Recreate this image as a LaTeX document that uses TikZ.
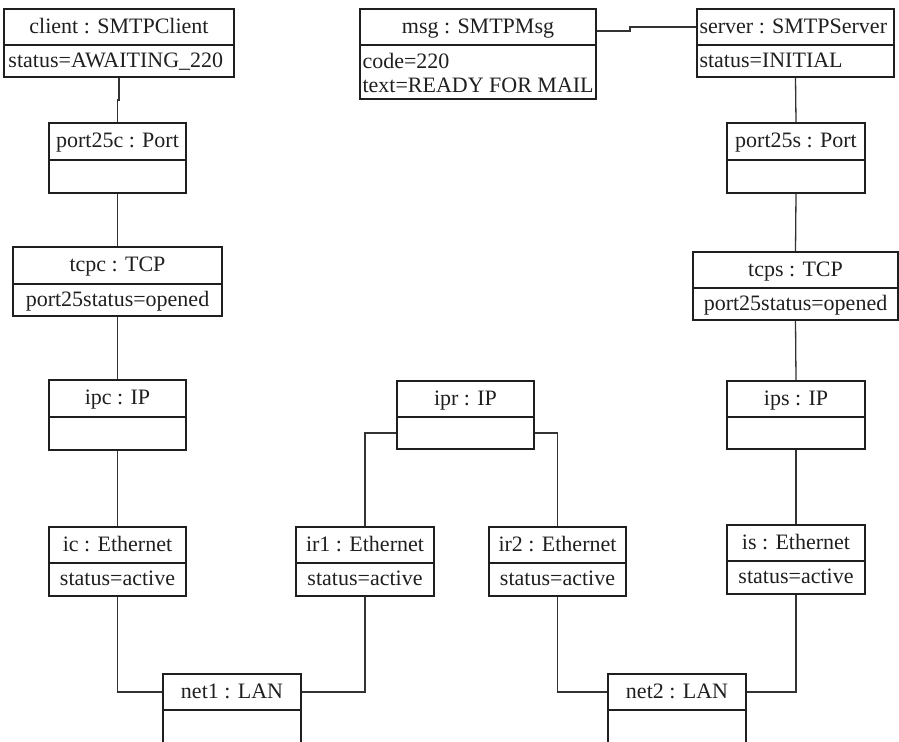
\documentclass[tikz,border=0pt]{standalone}
\usepackage{fontspec}
\setmainfont{Liberation Serif}
\usetikzlibrary{fit}

\tikzset{
  x=0.5pt, y=-0.5pt,
  comp/.style={draw=black!88, line width=0.9pt, inner sep=0pt},
  attr/.style={inner sep=0pt, anchor=west,
    font=\fontsize{11}{12}\selectfont, text=black!88},
  ctext/.style={attr, anchor=center},
  link/.style={draw=black!80, line width=0.65pt}
}

% object box: name, left, right, top, divider, bottom, title, centred attribute
\newcommand\objbox[8]{%
  \node[comp, fit={(#2,#4) (#3,#5)}] (#1) {};
  \node[comp, fit={(#2,#5) (#3,#6)}] (#1-a) {};
  \node[ctext] (#1-t) at ([yshift=-0.8pt]#1.center) {\strut #7};
  \node[ctext] (#1-v) at ([yshift=-0.8pt]#1-a.center) {\strut #8};
}

\begin{document}
\begin{tikzpicture}
\clip (0,0) rectangle (899,741);

% application layer
\objbox{client}{4}{234}{9}{45}{77}{client : SMTPClient}{}
\node[attr] (client-s) at ([xshift=2.5pt,yshift=-0.8pt]client-a.west) {\strut status=AWAITING\_220};
\objbox{msg}{360}{596}{9}{45}{99}{msg : SMTPMsg}{}
\node[attr, align=left] (msg-s) at ([xshift=1.5pt,yshift=-0.4pt]msg-a.west) {code=220\\text=READY FOR MAIL};
\objbox{server}{697}{894}{9}{45}{77}{}{}
\node[attr] (server-n) at ([xshift=1.5pt,yshift=-0.8pt]server.west) {\strut server : SMTPServer};
\node[attr] (server-s) at ([xshift=1.5pt,yshift=-0.8pt]server-a.west) {\strut status=INITIAL};

% ports
\objbox{port25c}{49}{186}{123}{160}{193}{port25c : Port}{}
\objbox{port25s}{727}{865}{123}{160}{193}{port25s : Port}{}

% transport
\objbox{tcpc}{13}{222}{247}{284}{316}{tcpc : TCP}{port25status=opened}
\objbox{tcps}{693}{898}{252}{288}{320}{tcps : TCP}{port25status=opened}

% network
\objbox{ipc}{49}{186}{380}{417}{450}{ipc : IP}{}
\objbox{ipr}{397}{534}{381}{417}{449}{ipr : IP}{}
\objbox{ips}{727}{865}{381}{417}{449}{ips : IP}{}

% interfaces
\objbox{ic}{49}{186}{527}{563}{596}{ic : Ethernet}{status=active}
\objbox{ir1}{296}{434}{527}{563}{596}{ir1 : Ethernet}{status=active}
\objbox{ir2}{489}{626}{527}{563}{596}{ir2 : Ethernet}{status=active}
\objbox{is}{727}{865}{525}{561}{594}{is : Ethernet}{status=active}

% LANs
\objbox{net1}{163}{301}{674}{710}{770}{net1 : LAN}{}
\objbox{net2}{608}{746}{674}{710}{770}{net2 : LAN}{}

% links
\draw[link] (client-a.south) -- ++(0,22) -| (port25c.north);
\draw[link] ([yshift=-2pt]msg.east) -- ++(33,0) |- (server.west);
\draw[link] (server-a.south) -- (port25s.north);
\draw[link] (port25c-a.south) -- (tcpc.north);
\draw[link] (port25s-a.south) -- (tcps.north);
\draw[link] (tcpc-a.south) -- (ipc.north);
\draw[link] (tcps-a.south) -- (ips.north);
\draw[link] (ipc-a.south) -- (ic.north);
\draw[link] (ips-a.south) -- (is.north);
\draw[link] (ipr-a.west) -| (ir1.north);
\draw[link] (ipr-a.east) -| (ir2.north);
\draw[link] (ic-a.south) |- (net1.west);
\draw[link] (ir1-a.south) |- (net1.east);
\draw[link] (ir2-a.south) |- (net2.west);
\draw[link] (is-a.south) |- (net2.east);
\end{tikzpicture}
\end{document}
